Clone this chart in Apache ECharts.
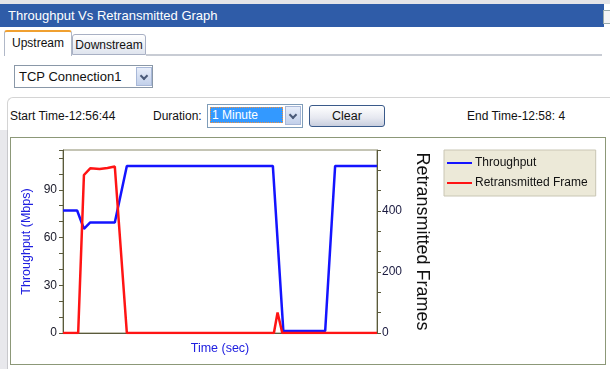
<!DOCTYPE html>
<html>
<head>
<meta charset="utf-8">
<script src="https://cdn.jsdelivr.net/npm/echarts@6/dist/echarts.min.js"></script>
<style>
  html, body { margin: 0; padding: 0; background: #ffffff; }
  body { width: 610px; height: 369px; position: relative; overflow: hidden;
         font-family: "Liberation Sans", Arial, sans-serif; font-size: 12px; color: #111; }
  .abs { position: absolute; }
  #topstrip { left: 0; top: 0; width: 610px; height: 4px; background: #e4e4e8; }
  #titlebar { left: 0; top: 4px; width: 604px; height: 23px; background: #2f5ca8;
              color: #fff; font-size: 13px; line-height: 23px; padding-left: 8px; box-sizing: border-box; }
  #titlebtn { left: 603px; top: 10px; width: 7px; height: 12px; background: #f4f4f4; border: 1px solid #9aa; }
  .tab { top: 31px; height: 23px; line-height: 22px; box-sizing: border-box; font-size: 12px; text-align: center; }
  #tab1 { left: 4px; width: 68px; background: #fff; border: 1px solid #b0b8c8; border-bottom: none;
          border-top: 2px solid #f0a030; border-radius: 3px 3px 0 0; top: 30px; height: 26px; }
  #tab2 { left: 72px; width: 74px; background: linear-gradient(#ffffff, #dfe4ee); border: 1px solid #a8b0c4;
          border-radius: 3px 3px 0 0; top: 34px; height: 21px; line-height: 20px; }
  #tabline { left: 146px; top: 54px; width: 456px; height: 2px; background: #c8ccd4; }
  #conn { left: 14px; top: 65px; width: 139px; height: 23px; border: 1px solid #8a98a8; box-sizing: border-box;
          background: #fff; line-height: 21px; padding-left: 4px; font-size: 13px; }
  .arrow { width: 16px; height: 19px; background: linear-gradient(#e8eefa, #c2d0ea); border: 1px solid #a8b8d8;
           box-sizing: border-box; }
  .arrow::after { content: ""; position: absolute; left: 4px; top: 5px; width: 4px; height: 4px;
                  border-right: 2px solid #4a5a78; border-bottom: 2px solid #4a5a78; transform: rotate(45deg); }
  #connArrow { left: 136px; top: 67px; }
  #group { left: 7px; top: 97px; width: 603px; height: 40px; border-top: 1px solid #d4d4d4;
           border-left: 1px solid #d4d4d4; border-radius: 6px 0 0 0; box-sizing: border-box; }
  #start { left: 10px; top: 109px; font-size: 12px; }
  #durlbl { left: 153px; top: 109px; font-size: 12px; }
  #dur { left: 207px; top: 104px; width: 96px; height: 24px; border: 1px solid #7f9db9; box-sizing: border-box; background: #fff; }
  #durSel { left: 210px; top: 107px; width: 73px; height: 16px; background: #3399ff; color: #fff;
            border: 1px dotted #f09040; box-sizing: border-box; font-size: 12px; line-height: 14px; padding-left: 1px; }
  #durArrow { left: 285px; top: 106px; }
  #clear { left: 309px; top: 105px; width: 76px; height: 22px; border: 1px solid #3a5a8a; border-radius: 3px;
           box-sizing: border-box; background: linear-gradient(#ffffff, #e6e8f0 60%, #c8cede); text-align: center;
           line-height: 20px; font-size: 12.5px; }
  #end { left: 467px; top: 109px; font-size: 12px; }
  #leftstrip { left: 0; top: 130px; width: 8px; height: 239px; background: #e8e8ec; border-right: 1px solid #c8c8cc; box-sizing: border-box; }
  #panel { left: 10px; top: 137px; width: 596px; height: 228px; border: 1px solid #8c9878; box-sizing: border-box; background: #fff; }
  #chart { left: 10px; top: 137px; width: 596px; height: 228px; }
</style>
</head>
<body>
<div class="abs" id="topstrip"></div>
<div class="abs" id="titlebar">Throughput Vs Retransmitted Graph</div>
<div class="abs" id="titlebtn"></div>
<div class="abs tab" id="tab2">Downstream</div>
<div class="abs tab" id="tab1">Upstream</div>
<div class="abs" id="tabline"></div>
<div class="abs" id="conn">TCP Connection1</div>
<div class="abs arrow" id="connArrow"></div>
<div class="abs" id="group"></div>
<div class="abs" id="start">Start Time-12:56:44</div>
<div class="abs" id="durlbl">Duration:</div>
<div class="abs" id="dur"></div>
<div class="abs" id="durSel">1 Minute</div>
<div class="abs arrow" id="durArrow"></div>
<div class="abs" id="clear">Clear</div>
<div class="abs" id="end">End Time-12:58: 4</div>
<div class="abs" id="leftstrip"></div>
<div class="abs" id="panel"></div>
<div class="abs" id="chart"></div>
<script>
// ---- data (time in seconds) ----
const throughputTime   = [0, 2.7, 4.0, 5.2, 9.9, 12.2, 40.1, 42.1, 50.1, 52.0, 60];
const throughputValues = [77, 77, 65.5, 69.5, 69.5, 105, 105, 1.3, 1.3, 105, 105];
const retransTime      = [0, 2.9, 4.0, 5.2, 7.0, 8.5, 9.9, 12.2, 40.3, 41.0, 41.9, 60];
const retransValues    = [0, 0, 518, 540, 538, 541, 546, 0, 0, 67, 0, 0];
const seriesNames      = ['Throughput', 'Retransmitted Frame'];
const leftTickLabels   = [0, 30, 60, 90];
const rightTickLabels  = [0, 200, 400];

const pairs = (xs, ys) => xs.map((x, i) => [x, ys[i]]);
const axisCol = '#5a5a3c';

const chart = echarts.init(document.getElementById('chart'), null, { renderer: 'canvas' });
chart.setOption({
  animation: false,
  backgroundColor: 'transparent',
  textStyle: { fontFamily: 'Liberation Sans, Arial, sans-serif' },
  grid: { left: 53, top: 13, width: 314, height: 183, show: true, borderColor: '#8a8a6a', borderWidth: 1, backgroundColor: '#fff' },
  legend: {
    orient: 'vertical', left: 434, top: 13,
    data: seriesNames.map(n => ({ name: n, icon: 'rect' })),
    itemWidth: 25, itemHeight: 2, itemGap: 8,
    padding: [7, 8, 7, 3],
    backgroundColor: '#ece9d8', borderColor: '#c9c6b4', borderWidth: 1,
    textStyle: { fontSize: 12, color: '#111', fontFamily: 'Liberation Sans, Arial, sans-serif', padding: [0, 0, 0, -2] }
  },
  xAxis: {
    type: 'value', min: 0, max: 60,
    name: 'Time (sec)', nameLocation: 'middle', nameGap: 9,
    nameTextStyle: { color: '#2020e0', fontSize: 12.5, verticalAlign: 'top' },
    axisLine: { lineStyle: { color: axisCol } },
    axisTick: { show: false }, axisLabel: { show: false }, splitLine: { show: false }
  },
  yAxis: [
    {
      type: 'value', min: 0, max: 115, interval: 10,
      name: 'Throughput (Mbps)', nameLocation: 'middle', nameGap: 23, nameRotate: 90,
      nameTextStyle: { color: '#2020e0', fontSize: 12.5 },
      axisLine: { show: true, lineStyle: { color: axisCol } },
      axisTick: { show: true, length: 4, lineStyle: { color: axisCol } },
      axisLabel: { color: '#1a1a2a', fontSize: 12, margin: 6,
        formatter: v => leftTickLabels.indexOf(Math.round(v)) >= 0 && Math.abs(v - Math.round(v)) < 1e-6 ? String(Math.round(v)) : '' },
      splitLine: { show: false }
    },
    {
      type: 'value', min: 0, max: 600, interval: 200 / 3, position: 'right',
      name: 'Retransmitted Frames', nameLocation: 'middle', nameGap: 35, nameRotate: -90,
      nameTextStyle: { color: '#111', fontSize: 18 },
      axisLine: { show: true, lineStyle: { color: axisCol } },
      axisTick: { show: true, length: 4, lineStyle: { color: axisCol } },
      axisLabel: { color: '#1a1a40', fontSize: 12, margin: 5,
        formatter: v => { const r = Math.round(v); return (Math.abs(v - r) < 1e-6 && rightTickLabels.indexOf(r) >= 0) ? String(r) : ''; } },
      splitLine: { show: false }
    }
  ],
  series: [
    { name: seriesNames[0], type: 'line', yAxisIndex: 0, data: pairs(throughputTime, throughputValues),
      showSymbol: false, color: '#1414ff', lineStyle: { width: 2.5, color: '#1414ff' } },
    { name: seriesNames[1], type: 'line', yAxisIndex: 1, data: pairs(retransTime, retransValues),
      showSymbol: false, color: '#ff1414', lineStyle: { width: 2.5, color: '#ff1414' } }
  ]
});
</script>
</body>
</html>
